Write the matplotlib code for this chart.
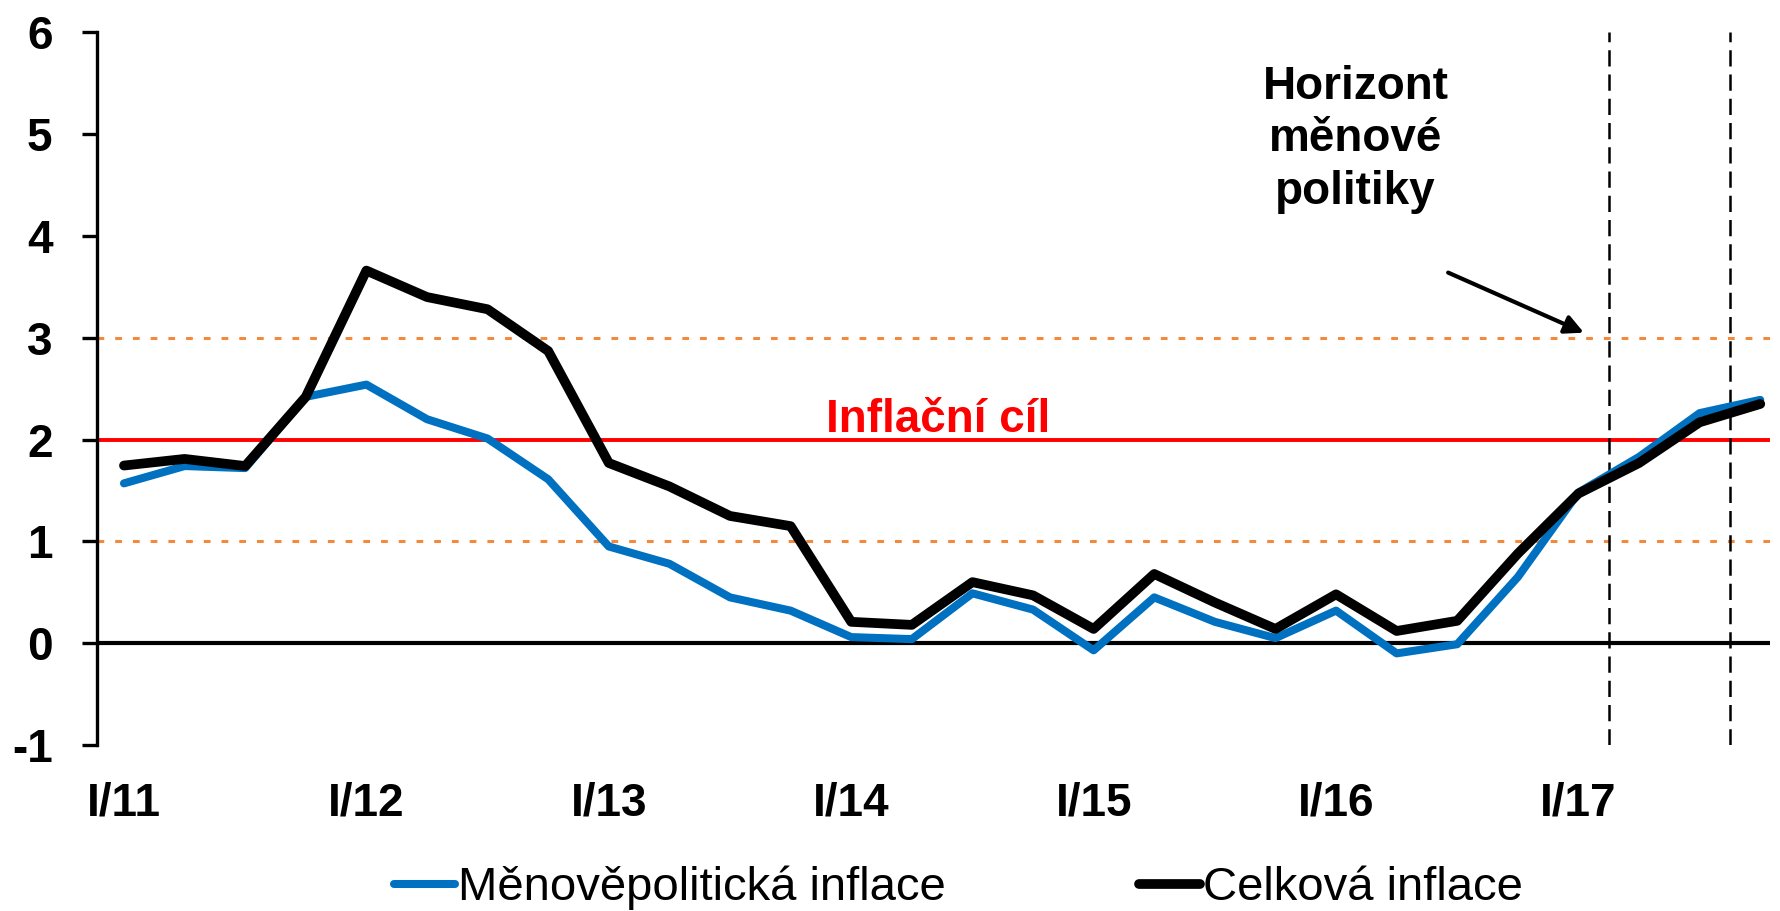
import numpy as np
import matplotlib
matplotlib.use("Agg")
import matplotlib.pyplot as plt

plt.rcParams['font.family'] = ['Liberation Sans', 'DejaVu Sans']
plt.rcParams['axes.unicode_minus'] = False

# ctvrtleti I/11 .. IV/17
quarters = ["I/11", "II/11", "III/11", "IV/11", "I/12", "II/12", "III/12", "IV/12",
            "I/13", "II/13", "III/13", "IV/13", "I/14", "II/14", "III/14", "IV/14",
            "I/15", "II/15", "III/15", "IV/15", "I/16", "II/16", "III/16", "IV/16",
            "I/17", "II/17", "III/17", "IV/17"]
menovepoliticka = [1.57, 1.74, 1.72, 2.42, 2.54, 2.20, 2.01, 1.61,
                   0.95, 0.78, 0.45, 0.32, 0.06, 0.04, 0.49, 0.33,
                   -0.07, 0.45, 0.21, 0.05, 0.32, -0.10, -0.01, 0.65,
                   1.48, 1.83, 2.26, 2.39]
celkova = [1.745, 1.81, 1.74, 2.42, 3.66, 3.40, 3.28, 2.87,
           1.77, 1.54, 1.25, 1.15, 0.21, 0.18, 0.60, 0.47,
           0.14, 0.68, 0.40, 0.14, 0.48, 0.12, 0.22, 0.88,
           1.47, 1.77, 2.17, 2.35]
tick_pos = [0, 4, 8, 12, 16, 20, 24]
tick_labels = [quarters[i] for i in tick_pos]
horizon = [24.5, 26.5]  # horizont menove politiky
target = 2
band = [1, 3]

x = np.arange(len(quarters))

fig = plt.figure(figsize=(17.81, 9.11), dpi=100)
ax = fig.add_axes([0.0543, 0.1822, 0.9395, 0.7823])

# tolerancni pasmo a cil
for b in band:
    ax.axhline(b, color='#F28A3E', lw=2.2, dashes=(2.2, 3.6), zorder=1)
ax.axhline(0, color='black', lw=3, zorder=2)
ax.axhline(target, color='#FF0000', lw=2.8, zorder=2)
for h in horizon:
    ax.axvline(h, color='black', lw=1.8, dashes=(6.5, 3.2), zorder=2)

ax.plot(x, menovepoliticka, color='#0070C0', lw=5.8, solid_capstyle='round',
        label='Měnověpolitická inflace', zorder=3)
ax.plot(x, celkova, color='black', lw=7, solid_capstyle='round',
        label='Celková inflace', zorder=4)

ax.text(13.43, 2.07, 'Inflační cíl', color='#FF0000', fontsize=33,
        fontweight='bold', ha='center', va='baseline')
ax.text(20.32, 4.95, 'Horizont\nměnové\npolitiky', fontsize=33, fontweight='bold',
        ha='center', va='center', multialignment='center', linespacing=1.25)
ax.annotate('', xy=(24.09, 3.05), xytext=(21.85, 3.64),
            arrowprops=dict(arrowstyle='-|>', color='black', lw=3,
                            mutation_scale=28, shrinkA=0, shrinkB=0))

ax.set_xlim(-0.45, 27.16)
ax.set_ylim(-1, 6)
ax.set_yticks(range(-1, 7))
ax.set_xticks(tick_pos)
ax.set_xticklabels(tick_labels)

for s in ['top', 'right', 'bottom']:
    ax.spines[s].set_visible(False)
ax.spines['left'].set_linewidth(2.4)
ax.tick_params(axis='y', length=10.8, width=2.4, pad=21, labelsize=33)
ax.tick_params(axis='x', length=0, pad=26, labelsize=33)
for lab in ax.get_xticklabels() + ax.get_yticklabels():
    lab.set_fontweight('bold')

fig.legend(loc='center', bbox_to_anchor=(0.538, 0.025), ncol=2, frameon=False,
           fontsize=34, handlelength=1.3, handletextpad=0.05, columnspacing=4.1,
           borderpad=0, borderaxespad=0)

fig.savefig('out.png', dpi=100)
